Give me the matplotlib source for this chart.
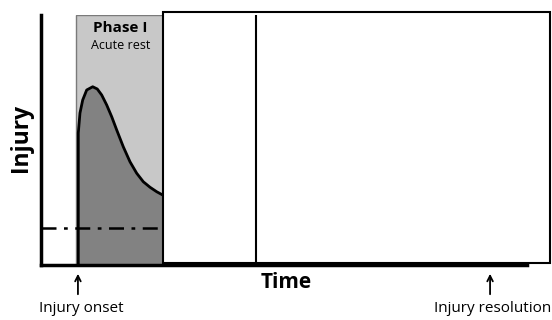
import matplotlib.pyplot as plt
from matplotlib.patches import Rectangle

# data (time and injury in arbitrary 0-100 units)
curva_t = [7.67, 7.67, 8.02, 8.58, 9.40, 10.64, 11.58, 12.49, 13.52,
           14.55, 15.58, 16.93, 18.31, 19.69, 21.05, 22.43, 23.81, 25.04]
curva_inj = [0, 52.8, 60.8, 66, 70, 71.3, 70.4, 68, 64,
             59.3, 54, 47.3, 41.3, 36.7, 33.3, 31.1, 29.3, 28]
inicio = 7.6          # injury onset
fim_fase1 = 25.1      # end of Phase I
divisao = 44.2        # line inside the white box
fim_caixa = 104.7     # right edge of the white box
topo_caixa = 101.2
resolucao = 92.4      # injury resolution
limiar = 14.8         # dash-dot threshold

plt.rcParams['font.family'] = ['Open Sans', 'DejaVu Sans']
fig = plt.figure(figsize=(5.52, 3.2), dpi=100)
ax = fig.add_axes([41/552, 55/320, 486/552, 250/320])
ax.set_xlim(0, 100)
ax.set_ylim(0, 100)

# Phase I light box
ax.add_patch(Rectangle((inicio - 0.3, 0), fim_fase1 - inicio + 0.3, 100, facecolor='#c8c8c8',
                       edgecolor='#7a7a7a', lw=1, zorder=1))
# dark fill under curve
ax.fill_between(curva_t, curva_inj, 0, color='#828282', lw=0, zorder=2)
ax.plot(curva_t, curva_inj, color='black', lw=2, zorder=3, solid_joinstyle='round')
# dash-dot threshold
ax.plot([0, fim_fase1], [limiar, limiar], color='black', lw=1.8, ls=(0, (6, 3, 1.5, 3)), zorder=3)

# white box on the right
ax.add_patch(Rectangle((fim_fase1, 0.8), fim_caixa - fim_fase1, topo_caixa - 0.8,
                       facecolor='white', edgecolor='black', lw=1.5, zorder=4, clip_on=False))
ax.plot([divisao, divisao], [0.8, topo_caixa], color='black', lw=1.5, zorder=5)

for s in ['top', 'right']:
    ax.spines[s].set_visible(False)
for s in ['left', 'bottom']:
    ax.spines[s].set_linewidth(2.5)
    ax.spines[s].set_zorder(6)
ax.set_xticks([])
ax.set_yticks([])

ax.text(16.3, 97.4, 'Phase I', ha='center', va='top', fontsize=11, fontweight='bold', zorder=5)
ax.text(16.3, 90.4, 'Acute rest', ha='center', va='top', fontsize=9, zorder=5)

fig.text(21/552, 1 - 138/320, 'Injury', rotation=90, ha='center', va='center',
         fontsize=16.5, fontweight='bold')
fig.text(286/552, 1 - 283/320, 'Time', ha='center', va='center',
         fontsize=15, fontweight='bold')

for xpos, texto in [(inicio, 'Injury onset'), (resolucao, 'Injury resolution')]:
    ax.annotate('', xy=(xpos, -2.4), xytext=(xpos, -12.8), annotation_clip=False,
                arrowprops=dict(arrowstyle='->', color='black', lw=1.3))
    ax.text(xpos + 0.6, -14.4, texto, ha='center', va='top', fontsize=11, clip_on=False)

fig.savefig('out.png', dpi=100)
